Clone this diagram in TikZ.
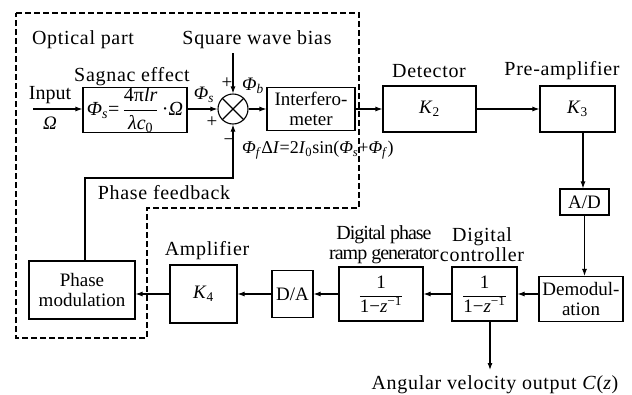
\documentclass[tikz,border=0pt]{standalone}
\usepackage{fontspec}
\setmainfont{Liberation Serif}
\newfontfamily\spc[LetterSpace=3.5]{Liberation Serif}
\newfontfamily\cnd[LetterSpace=-5]{Liberation Serif}
\usetikzlibrary{arrows.meta,calc}
\newcommand\Phit{\textit{Φ}}
\newcommand\sub[1]{\textsubscript{#1}}
\newcommand\myfr[2]{$\displaystyle\frac{\hbox{#1}}{\hbox{#2}}$}
\begin{document}
\begin{tikzpicture}[x=1pt,y=-1pt, font=\fontsize{19}{20}\selectfont,
  blk/.style={draw, line width=1.1pt, inner sep=0pt, align=center},
  arr/.style={-{Latex[length=7pt,width=5pt]}, line width=1.1pt},
  ln/.style={line width=1.1pt},
  lbl/.style={inner sep=0pt, align=center},
  slbl/.style={inner sep=0pt, align=center, font=\fontsize{20}{20}\spc},
  dsh/.style={line width=1.1pt, dash pattern=on 6pt off 3pt}]
\useasboundingbox (0,0) rectangle (632,394);
% dashed optical part outline
\draw[dsh] (16,13) -- (359,13) -- (359,208) -- (147,208) -- (147,338) -- (16,338) -- cycle;
% main row blocks
\node[blk, minimum width=104, minimum height=44, font=\fontsize{20}{20}\selectfont] (sag) at (135,110)
  {\Phit\sub{\textit{s}}=\,\myfr{4π\textit{lr}}{\textit{λc}\sub{0}}\,·\textit{Ω}};
\node[draw, circle, line width=1.1pt, minimum size=30, inner sep=0pt] (sum) at (233,109) {};
\draw[ln] (sum.north west) -- (sum.south east) (sum.north east) -- (sum.south west);
\node[blk, minimum width=88, minimum height=43] (int) at (311,109) {Interfero-\\meter};
\node[blk, minimum width=93, minimum height=46] (det) at (429.5,109) {\textit{K}\sub{2}};
\node[blk, minimum width=75, minimum height=46] (pre) at (577.5,109) {\textit{K}\sub{3}};
\node[blk, minimum width=49, minimum height=26] (ad) at (584.5,202) {A/D};
\node[blk, minimum width=84, minimum height=45] (dem) at (581,299) {Demodul-\\ation};
% lower row blocks
\node[blk, minimum width=65, minimum height=54] (ctrl) at (484.5,294)
  {\myfr{1}{1−\textit{z}\textsuperscript{−1}}};
\node[blk, minimum width=84, minimum height=54] (ramp) at (381,294)
  {\myfr{1}{1−\textit{z}\textsuperscript{−1}}};
\node[blk, minimum width=41, minimum height=47] (da) at (292.5,294) {D/A};
\node[blk, minimum width=67, minimum height=58] (k4) at (203.5,294) {\textit{K}\sub{4}};
\node[blk, minimum width=106, minimum height=58] (pm) at (82,290) {Phase\\modulation};
% labels
\node[slbl] (lopt) at (83,40) {Optical part};
\node[slbl] (lsq) at (257,40) {Square wave bias};
\node[slbl] (lsag) at (132,77) {Sagnac effect};
\node[lbl, font=\fontsize{20}{20}\selectfont] (lin) at (50,95) {Input};
\node[lbl] (lom) at (50,123) {\textit{Ω}};
\node[lbl] (lphs) at (204,95) {\Phit\sub{\textit{s}}};
\node[lbl] (lp1) at (227,83) {+};
\node[lbl] (lphb) at (253,86) {\Phit\sub{\textit{b}}};
\node[lbl] (lp2) at (212,122) {+};
\node[lbl] (lmin) at (229,142) {−};
\node[lbl, anchor=west, font=\fontsize{18}{20}\selectfont] (leq) at (242,150)
  {\Phit\sub{\textit{f}}Δ\textit{I}=2\textit{I}\sub{0}sin(\Phit\sub{\textit{s}}+\Phit\sub{\textit{f}})};
\node[slbl] (ldet) at (429,71) {Detector};
\node[slbl] (lpre) at (562,71) {Pre-amplifier};
\node[slbl] (lctrl) at (482,245) {Digital\\controller};
\node[lbl, font=\fontsize{20}{20}\cnd] (lramp) at (384,245) {Digital phase\\ramp generator};
\node[slbl] (lamp) at (207,251) {Amplifier};
\node[slbl] (lfb) at (164,193) {Phase feedback};
\node[lbl, font=\fontsize{20}{20}\spc] (lout) at (495,385) {Angular velocity output \textit{C}(\textit{z})};
% connectors
\coordinate (inp) at (33,109);
\draw[arr] (inp) -- (sag.west |- inp);
\draw[arr] (sag.east |- sum) -- (sum.west);
\coordinate (sqt) at (233,53);
\draw[arr] (sqt) -- (sum.north);
\draw[arr] (sum.east) -- (int.west |- sum);
\draw[arr] (int.east) -- (det.west |- int);
\draw[arr] (det.east) -- (pre.west);
\draw[arr] (pre.south -| 583,0) -- (ad.north -| 583,0);
\draw[arr] (ad.south) -- (ad.south |- dem.north);
\draw[arr] (dem.west |- ctrl) -- (ctrl.east);
\draw[arr] (ctrl.west) -- (ramp.east);
\draw[arr] (ramp.west) -- (da.east);
\draw[arr] (da.west) -- (k4.east);
\draw[arr] (k4.west) -- (pm.east |- k4);
\coordinate (outp) at (490,370);
\draw[arr] (ctrl.south -| outp) -- (outp);
\coordinate (fb) at (85,178);
\draw[arr] (pm.north -| fb) -- (fb) -- (fb -| sum.south) -- (sum.south);
\end{tikzpicture}
\end{document}
